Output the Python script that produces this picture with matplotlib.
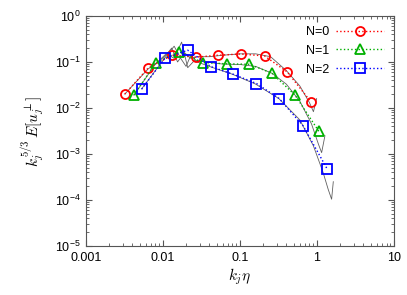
import numpy as np
import matplotlib.pyplot as plt

plt.rcParams['font.family'] = ['Liberation Sans', 'DejaVu Sans']
plt.rcParams['mathtext.fontset'] = 'cm'

# model results (markers)
k0 = [0.0032, 0.0064, 0.0131, 0.027, 0.052, 0.102, 0.209, 0.41, 0.83]
e0 = [0.020, 0.073, 0.14, 0.127, 0.14, 0.149, 0.135, 0.061, 0.0138]
k1 = [0.0042, 0.0081, 0.0163, 0.033, 0.067, 0.132, 0.26, 0.52, 1.06]
e1 = [0.019, 0.097, 0.167, 0.097, 0.091, 0.089, 0.057, 0.019, 0.0031]
k2 = [0.0053, 0.0106, 0.021, 0.042, 0.082, 0.164, 0.324, 0.66, 1.36]
e2 = [0.0256, 0.12, 0.18, 0.079, 0.054, 0.034, 0.016, 0.0041, 0.00047]

# reference spectra (thin gray)
gk0 = [0.0032, 0.0064, 0.0105, 0.013, 0.0155, 0.019, 0.023, 0.028, 0.04, 0.06, 0.1, 0.16, 0.25, 0.4, 0.6, 0.8, 0.9, 0.99]
ge0 = [0.02, 0.07, 0.13, 0.2, 0.1, 0.16, 0.12, 0.13, 0.13, 0.14, 0.15, 0.15, 0.13, 0.065, 0.03, 0.013, 0.0083, 0.016]
gk1 = [0.0042, 0.008, 0.011, 0.014, 0.0175, 0.021, 0.026, 0.035, 0.06, 0.1, 0.16, 0.26, 0.4, 0.6, 0.85, 1.05, 1.15, 1.27]
ge1 = [0.019, 0.09, 0.15, 0.12, 0.27, 0.075, 0.11, 0.1, 0.09, 0.088, 0.08, 0.057, 0.033, 0.014, 0.0045, 0.0016, 0.00107, 0.0025]
gk2 = [0.0053, 0.0105, 0.014, 0.017, 0.02, 0.023, 0.028, 0.04, 0.08, 0.16, 0.32, 0.6, 0.9, 1.2, 1.4, 1.55, 1.63]
ge2 = [0.026, 0.12, 0.22, 0.12, 0.08, 0.14, 0.1, 0.08, 0.054, 0.033, 0.016, 0.0055, 0.0015, 0.0004, 0.00017, 0.000104, 0.00025]

labels = ['N=0', 'N=1', 'N=2']
colors = ['#ff0000', '#00b000', '#0000ff']
markers = ['o', '^', 's']

fig = plt.figure(figsize=(4.07, 2.95), dpi=100)
ax = fig.add_axes([0.211, 0.166, 0.757, 0.780])

for gk, ge in [(gk0, ge0), (gk1, ge1), (gk2, ge2)]:
    ax.plot(gk, ge, '-', color='#606060', lw=0.6)

for k, e, c, m, lab in zip([k0, k1, k2], [e0, e1, e2], colors, markers, labels):
    ax.plot(k, e, ':', color=c, lw=1.0, marker=m, ms=6.5, mfc='none', mec=c, mew=1.3, label=lab)

ax.set_xscale('log')
ax.set_yscale('log')
ax.set_xlim(0.001, 10)
ax.set_ylim(1e-5, 1)
ax.set_xticks([0.001, 0.01, 0.1, 1, 10])
ax.set_xticklabels(['0.001', '0.01', '0.1', '1', '10'])
ax.tick_params(which='both', direction='in', top=True, right=True, labelsize=9, color='#555555')
ax.tick_params(which='major', length=4, pad=4)
ax.tick_params(which='minor', length=2)
for s in ax.spines.values():
    s.set_color('#555555')
    s.set_linewidth(0.8)

ax.set_xlabel(r'$k_j\eta$', fontsize=11, labelpad=2)
ax.set_ylabel(r'$k_j^{5/3}\,E[u_j^{\perp}]$', fontsize=11, labelpad=6)

ax.legend(loc='upper right', frameon=False, markerfirst=False, fontsize=9,
          handlelength=3.8, labelspacing=0.55, borderaxespad=0.4, handletextpad=0.6)

fig.savefig('out.png', dpi=100)
